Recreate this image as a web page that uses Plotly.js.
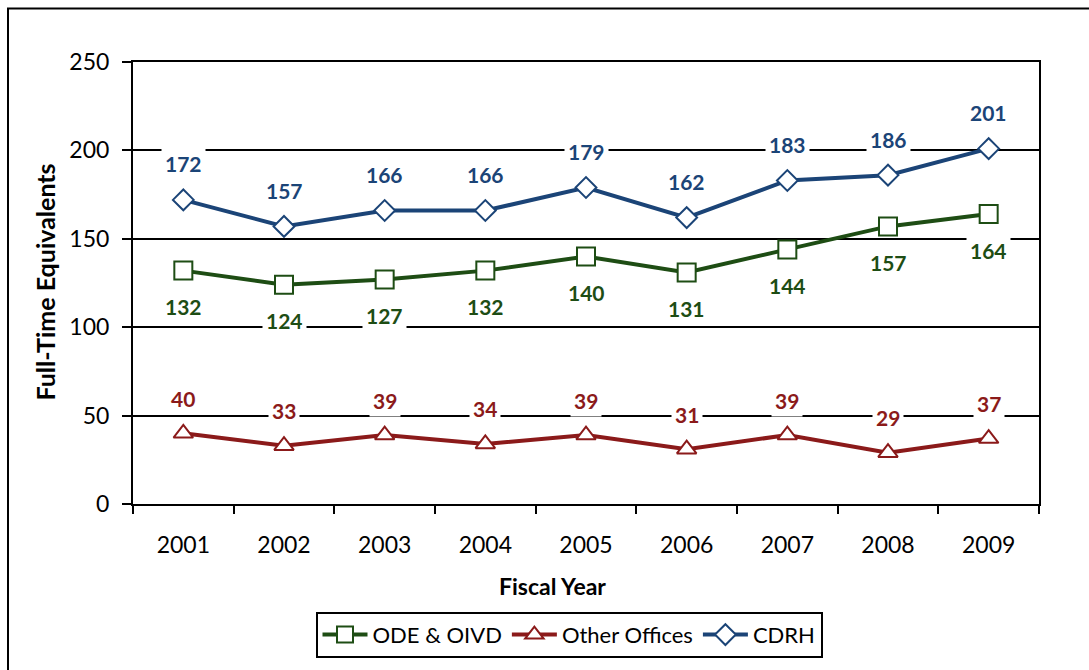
<!DOCTYPE html>
<html>
<head>
<meta charset="utf-8">
<script src="https://cdn.plot.ly/plotly-3.0.1.min.js"></script>
<style>
html,body{margin:0;padding:0;background:#fff;}
#chart{width:1089px;height:670px;}
</style>
</head>
<body>
<div id="chart"></div>
<script>
const years = ['2001','2002','2003','2004','2005','2006','2007','2008','2009'];
const odeOivd = [132,124,127,132,140,131,144,157,164];
const otherOffices = [40,33,39,34,39,31,39,29,37];
const cdrh = [172,157,166,166,179,162,183,186,201];

const seriesNames = ['ODE & OIVD','Other Offices','CDRH'];
const colors = ['#1E4D14','#8B1A1A','#1B4477'];
const symbols = ['square','triangle-up','diamond'];
const sizes = [18,17,16];
const labelShift = [-36,35,36];
const allSeries = [odeOivd, otherOffices, cdrh];

const FONT = 'Lato, "Open Sans", sans-serif';

const traces = allSeries.map((vals,i)=>({
  type:'scatter', mode:'lines+markers', name:seriesNames[i],
  x:years, y:vals,
  line:{color:colors[i], width:4},
  marker:{symbol:symbols[i], size:sizes[i], color:'#fff', line:{color:colors[i], width:2}},
  cliponaxis:false
}));

const annotations = [];
allSeries.forEach((vals,i)=>{
  vals.forEach((v,j)=>{
    annotations.push({
      x:j, y:v, xref:'x', yref:'y', text:String(v), showarrow:false,
      yshift:labelShift[i], bgcolor:'#fff', borderpad:3,
      font:{family:FONT, size:21, color:colors[i], weight:'bold'}
    });
  });
});
annotations.push({
  text:'<b>Fiscal Year</b>', xref:'paper', yref:'paper', x:(552-133)/906, y:(509-592)/447,
  xanchor:'center', yanchor:'middle',
  showarrow:false, font:{family:FONT, size:23, color:'#000'}
});
annotations.push({
  text:'<b>Full-Time Equivalents</b>', xref:'paper', yref:'paper', x:(45-133)/906, y:(509-285)/447,
  xanchor:'center', yanchor:'middle',
  showarrow:false, textangle:-90, font:{family:FONT, size:25, color:'#000'}
});

const layout = {
  width:1089, height:670,
  margin:{l:133, r:50, t:62, b:161},
  paper_bgcolor:'#fff', plot_bgcolor:'#fff',
  showlegend:true,
  legend:{orientation:'h', x:(569-133)/906, xanchor:'center', y:(509-618)/447, yanchor:'top',
    bordercolor:'#000', borderwidth:2, font:{family:FONT, size:22, color:'#000'}, bgcolor:'#fff',
    itemwidth:45, tracegroupgap:0},
  xaxis:{type:'category', range:[-0.5,8.5], autorange:false, showline:true, linecolor:'#000', linewidth:2, mirror:true,
    ticks:'outside', tickson:'boundaries', ticklen:8, tickwidth:2, tickcolor:'#000',
    showgrid:false, ticklabelstandoff:19, tickangle:0, tickfont:{family:FONT, size:23, color:'#000'}},
  yaxis:{range:[0,250], autorange:false, dtick:50, showline:true, linecolor:'#000', linewidth:2, mirror:true,
    ticks:'outside', ticklen:9, tickwidth:2, tickcolor:'#000',
    showgrid:true, gridcolor:'#000', gridwidth:2, zeroline:false,
    ticklabelstandoff:8, tickfont:{family:FONT, size:23, color:'#000'}},
  annotations:annotations,
  shapes:[{type:'rect', xref:'paper', yref:'paper', x0:(8-133)/906, x1:3, y0:-3, y1:(509-8)/447,
    line:{color:'#000', width:2}, fillcolor:'rgba(0,0,0,0)', layer:'below'}]
};

Plotly.newPlot('chart', traces, layout, {displayModeBar:false, staticPlot:true});
</script>
</body>
</html>
